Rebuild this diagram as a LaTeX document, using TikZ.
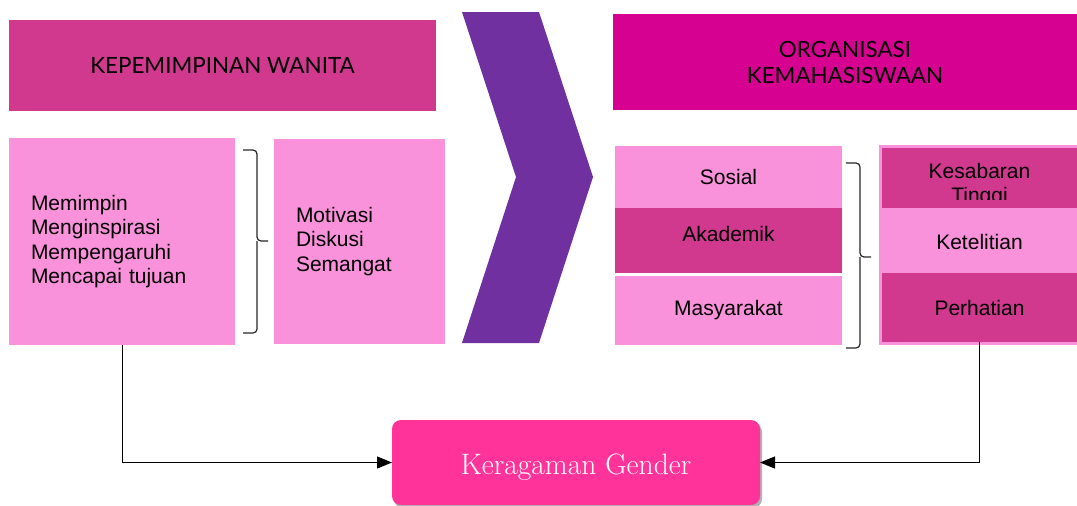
\documentclass[tikz,border=0pt]{standalone}
\usepackage{fontspec}
\newfontfamily\arialfont{Liberation Sans}
\newfontfamily\judulfont{Lato}
\usetikzlibrary{shadows,arrows.meta}

\definecolor{pinkmuda}{RGB}{249,146,218}
\definecolor{pinktua}{RGB}{208,57,142}
\definecolor{pinkjudul}{RGB}{214,0,145}
\definecolor{ungu}{RGB}{112,48,160}
\definecolor{pinkterang}{RGB}{255,51,153}

\begin{document}
\begin{tikzpicture}[x=1pt,y=-1pt]
\tikzstyle{every node} = [inner sep=0pt, outer sep=0pt]
\tikzstyle{judul} = [font=\judulfont\fontsize{22.4}{26}\selectfont, align=center, anchor=north west]
\tikzstyle{isi} = [font=\arialfont\fontsize{21}{24.5}\selectfont]
\tikzstyle{kotak} = [fill=pinkmuda, anchor=north west]
\tikzstyle{kurung} = [line width=1.2pt, rounded corners=4pt, black!85]
\tikzstyle{panah} = [-{Triangle[length=15pt,width=12pt]}, line width=1pt]

\useasboundingbox (0,0) rectangle (1077,506);

% judul
\node[judul, fill=pinktua, minimum width=427pt, minimum height=91pt] (kw) at (9, 20) {KEPEMIMPINAN WANITA};
\node[judul, fill=pinkjudul, minimum width=464pt, minimum height=96pt] (ok) at (613, 14) {ORGANISASI\\KEMAHASISWAAN};

% panah tengah
\fill[ungu] (462, 12) -- (539, 12) -- (593, 177) -- (539, 343) -- (462, 343) -- (516, 177) -- cycle;

% sisi kiri
\node[kotak, isi, minimum width=226pt, minimum height=207pt, text width=182pt, inner xsep=22pt, align=left] (lead) at (9, 138) {
  Memimpin\\
  Menginspirasi\\
  Mempengaruhi\\
  Mencapai tujuan
};
\node[kotak, isi, minimum width=171pt, minimum height=205pt, text width=127pt, inner xsep=22pt, align=left] (mds) at (274, 139) {
  Motivasi\\
  Diskusi\\
  Semangat
};
\draw[kurung] (243, 150) -- (257, 150) -- (257, 241) -- (268, 241);
\draw[kurung] (243, 333) -- (257, 333) -- (257, 241);

% sisi kanan
\node[kotak, isi, minimum width=227pt, minimum height=62pt] (sos) at (615, 146) {Sosial};
\node[kotak, isi, fill=pinktua, minimum width=227pt, minimum height=65pt, text height=15pt, text depth=13pt] (aka) at (615, 208) {Akademik};
\node[kotak, isi, minimum width=227pt, minimum height=69pt] (mas) at (615, 276) {Masyarakat};
\draw[kurung] (846, 163) -- (860, 163) -- (860, 257) -- (871, 257);
\draw[kurung] (846, 348) -- (860, 348) -- (860, 257);

\node[kotak, minimum width=198pt, minimum height=200pt] (kol) at (879, 145) {};
\node[kotak, fill=pinktua, minimum width=195pt, minimum height=60pt] (sab) at (882, 148) {};
\begin{scope}
  \clip (882, 148) rectangle (1077, 199);
  \node[isi, align=center] (sabteks) at (979.5, 185) {Kesabaran\\Tinggi};
\end{scope}
\node[kotak, isi, minimum width=195pt, minimum height=63pt] (tel) at (882, 210) {Ketelitian};
\node[kotak, isi, fill=pinktua, minimum width=195pt, minimum height=69pt] (per) at (882, 273) {Perhatian};

% kotak bawah
\node[fill=pinkterang, rounded corners=9pt, minimum width=368pt, minimum height=85pt, text=white,
  font=\fontsize{29.5}{32}\selectfont, text height=30.5pt, text depth=5.7pt,
  drop shadow={shadow xshift=2pt, shadow yshift=-3pt, opacity=0.5, fill=black!60}] (gen) at (576, 462.5) {Keragaman Gender};

% garis penghubung
\draw[panah] (lead.south) |- (gen.west);
\draw[panah] (per.south) |- (gen.east);

\end{tikzpicture}
\end{document}
